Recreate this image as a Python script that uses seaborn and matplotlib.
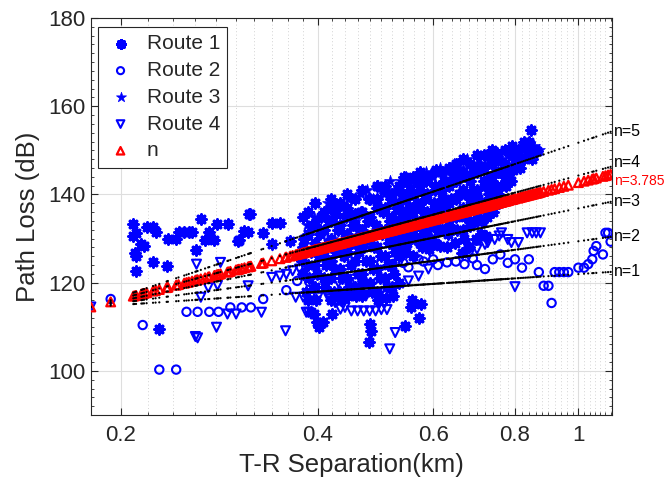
import numpy as np
import matplotlib
matplotlib.use("Agg")
import matplotlib.pyplot as plt
import seaborn as sns
from matplotlib.ticker import FixedLocator, MultipleLocator, NullFormatter

sns.set_style("ticks")
plt.rcParams['font.family'] = ['Liberation Sans', 'DejaVu Sans']

route1_d = [0.209, 0.209, 0.211, 0.219, 0.224, 0.226, 0.215, 0.217, 0.210, 0.211,
            0.211, 0.224, 0.235, 0.236, 0.243, 0.245, 0.250, 0.254, 0.257, 0.265,
            0.273, 0.269, 0.278, 0.281, 0.292, 0.261, 0.303, 0.314, 0.313, 0.229,
            0.315, 0.309, 0.302, 0.330, 0.340, 0.350, 0.340, 0.363, 0.420, 0.427,
            0.444, 0.399, 0.401, 0.390, 0.478, 0.481,
            0.378, 0.381, 0.384, 0.388, 0.390, 0.392, 0.394, 0.397, 0.399, 0.401,
            0.403, 0.405, 0.407, 0.410, 0.412, 0.414, 0.416, 0.418, 0.421, 0.423,
            0.425, 0.427, 0.429, 0.431, 0.434, 0.436, 0.438, 0.440, 0.442, 0.445,
            0.447, 0.449, 0.451, 0.453, 0.455, 0.458, 0.460, 0.462, 0.464, 0.466,
            0.469, 0.471, 0.473, 0.475, 0.477, 0.479, 0.482, 0.484, 0.486, 0.488,
            0.490, 0.492, 0.495, 0.497, 0.499, 0.501, 0.503, 0.505, 0.508, 0.510,
            0.512, 0.514, 0.516, 0.518, 0.521, 0.523, 0.525, 0.527, 0.529, 0.531,
            0.534, 0.536, 0.538, 0.540, 0.542, 0.544, 0.547, 0.549, 0.551, 0.553,
            0.555, 0.557, 0.562, 0.564, 0.566, 0.568, 0.570, 0.575, 0.577, 0.579,
            0.581, 0.583, 0.585, 0.592, 0.595, 0.598, 0.601, 0.604, 0.607, 0.611,
            0.614, 0.617, 0.620, 0.623, 0.630, 0.633, 0.636, 0.639, 0.642, 0.645,
            0.649, 0.652, 0.655, 0.658, 0.661, 0.665, 0.668, 0.671, 0.674, 0.677,
            0.681, 0.684, 0.687, 0.690, 0.693, 0.697, 0.700, 0.703, 0.706, 0.710,
            0.713, 0.716, 0.719, 0.723, 0.726, 0.729, 0.732, 0.735, 0.740, 0.744,
            0.748, 0.752, 0.757, 0.761, 0.765, 0.769, 0.775, 0.779, 0.783, 0.790,
            0.795, 0.800, 0.815, 0.830, 0.845, 0.850, 0.865,
            0.380, 0.380, 0.380,
            0.386, 0.386, 0.386, 0.386,
            0.396, 0.396, 0.396, 0.396, 0.396,
            0.408, 0.408, 0.408, 0.408,
            0.419, 0.419, 0.419, 0.419, 0.419, 0.419,
            0.432, 0.432, 0.432, 0.432, 0.432,
            0.443, 0.443, 0.443, 0.443, 0.443,
            0.456, 0.456, 0.456, 0.456, 0.456,
            0.467, 0.467, 0.467, 0.467, 0.467, 0.467,
            0.480, 0.480, 0.480, 0.480, 0.480,
            0.493, 0.493, 0.493, 0.493, 0.493, 0.493,
            0.506, 0.506, 0.506, 0.506, 0.506,
            0.519, 0.519, 0.519, 0.519, 0.519,
            0.532, 0.532, 0.532, 0.532, 0.532, 0.532,
            0.545, 0.545, 0.545, 0.545, 0.545,
            0.559, 0.559, 0.559, 0.559, 0.559,
            0.573, 0.573, 0.573, 0.573, 0.573,
            0.588, 0.588, 0.588, 0.588, 0.588,
            0.603, 0.603, 0.603, 0.603, 0.603,
            0.618, 0.618, 0.618, 0.618,
            0.634, 0.634, 0.634, 0.634,
            0.650, 0.650, 0.650, 0.650,
            0.667, 0.667, 0.667, 0.667, 0.667,
            0.683, 0.683, 0.683, 0.683,
            0.700, 0.700, 0.700, 0.700,
            0.718, 0.718, 0.718, 0.718,
            0.737, 0.737, 0.737, 0.737,
            0.755, 0.755, 0.755,
            0.773, 0.773, 0.773,
            0.792, 0.792, 0.792,
            0.808, 0.808,
            0.825, 0.825,
            0.840, 0.840]
route1_pl = [133.4, 130.6, 131.3, 132.7, 132.7, 131.5, 128.7, 128.3, 126.8, 126.1,
             122.7, 124.6, 123.8, 129.8, 129.8, 131.5, 131.5, 131.5, 131.5, 134.5,
             131.5, 129.7, 129.7, 133.3, 133.3, 127.4, 129.7, 135.5, 131.5, 109.5,
             135.6, 131.7, 129.5, 131.3, 133.6, 133.6, 128.7, 129.5, 137.5, 135.5,
             135.5, 111.0, 109.9, 113.3, 106.5, 110.6,
             125.0, 130.0, 118.0, 121.0, 127.0, 133.0, 113.0, 116.0, 122.0, 126.0,
             131.0, 135.0, 111.0, 119.0, 124.0, 129.0, 134.0, 137.0, 113.0, 118.0,
             123.0, 127.0, 132.0, 137.5, 116.0, 121.0, 126.0, 130.0, 135.0, 117.0,
             119.0, 124.0, 129.0, 133.0, 135.5, 117.0, 122.0, 127.0, 131.0, 136.0,
             117.5, 120.0, 125.0, 130.0, 134.0, 138.9, 109.0, 118.0, 123.0, 128.0,
             133.0, 137.0, 116.0, 121.0, 126.0, 131.0, 136.0, 141.0, 116.5, 119.0,
             124.0, 129.0, 134.0, 139.0, 117.0, 122.0, 127.0, 132.0, 137.0, 141.0,
             128.0, 132.0, 136.0, 140.0, 144.0, 110.2, 129.0, 133.0, 137.0, 141.0,
             114.4, 116.0, 130.0, 134.0, 138.0, 142.6, 112.0, 115.1, 128.0, 131.0,
             135.0, 139.0, 143.0, 127.6, 130.0, 134.0, 138.0, 142.0, 145.6, 131.7,
             128.3, 135.0, 139.0, 143.0, 128.0, 131.0, 135.0, 139.0, 143.0, 145.0,
             129.0, 132.0, 136.0, 140.0, 144.0, 126.8, 130.0, 135.0, 140.0, 144.0,
             128.0, 132.8, 137.0, 141.0, 145.3, 130.0, 134.0, 139.0, 146.4, 131.0,
             134.0, 137.0, 142.0, 130.6, 135.0, 140.0, 144.0, 148.0, 136.0, 141.0,
             145.0, 149.4, 138.0, 142.0, 144.9, 147.0, 141.9, 143.4, 146.0, 143.0,
             145.6, 148.0, 146.0, 150.6, 154.7, 148.0, 149.8,
             122.0, 128.0, 135.0,
             116.0, 124.0, 131.0, 136.0,
             119.0, 124.0, 129.0, 133.0, 138.0,
             121.0, 126.0, 132.0, 136.0,
             116.0, 121.0, 125.0, 130.0, 134.0, 139.0,
             118.0, 123.0, 128.0, 133.0, 138.0,
             121.0, 127.0, 131.0, 137.0, 140.0,
             119.0, 125.0, 129.0, 133.0, 139.0,
             117.0, 122.0, 128.0, 132.0, 136.0, 141.0,
             120.0, 125.0, 130.0, 135.0, 139.0,
             118.0, 123.0, 128.0, 132.0, 139.0, 142.0,
             121.0, 126.0, 132.0, 137.0, 142.0,
             119.0, 124.0, 130.0, 135.0, 140.0,
             120.0, 126.0, 130.0, 134.0, 138.0, 142.0,
             127.0, 131.0, 135.0, 139.0, 143.0,
             126.0, 132.0, 136.0, 140.0, 144.0,
             129.0, 133.0, 137.0, 141.0, 145.0,
             130.0, 132.0, 136.0, 140.0, 144.0,
             129.0, 133.0, 136.0, 141.0, 145.0,
             132.0, 137.0, 141.0, 145.0,
             133.0, 138.0, 142.0, 146.0,
             135.0, 139.0, 143.0, 147.0,
             132.0, 137.0, 141.0, 145.0, 148.0,
             134.0, 139.0, 143.0, 147.0,
             136.0, 141.0, 145.0, 149.0,
             138.0, 143.0, 146.0, 149.0,
             139.0, 143.0, 147.0, 150.0,
             140.0, 145.0, 148.0,
             144.0, 147.0, 150.0,
             146.0, 149.0, 151.0,
             147.0, 150.0,
             148.0, 152.0,
             150.0, 152.0]

route2_d = [0.193, 0.216, 0.229, 0.243, 0.252, 0.262, 0.273, 0.282, 0.294, 0.306,
            0.316, 0.330, 0.358, 0.372, 0.388, 0.500, 0.520, 0.530, 0.540, 0.550,
            0.570, 0.580, 0.600, 0.610, 0.630, 0.650, 0.670, 0.690, 0.700, 0.720,
            0.740, 0.760, 0.780, 0.800, 0.820, 0.840, 0.870, 0.885, 0.900, 0.910,
            0.920, 0.935, 0.950, 0.965, 1.000, 1.020, 1.035, 1.050, 1.055, 1.065,
            1.090, 1.100, 1.110, 1.120]
route2_pl = [116.3, 110.4, 100.3, 100.3, 113.4, 113.4, 113.4, 113.4, 114.4, 114.4,
             114.4, 116.3, 118.3, 120.4, 120.2, 124.5, 124.2, 124.8, 124.5, 123.5,
             125.3, 124.8, 125.3, 124.0, 124.6, 124.8, 124.2, 125.5, 124.0, 123.1,
             125.3, 126.4, 124.5, 125.3, 123.4, 125.3, 122.4, 119.3, 119.3, 115.4,
             122.4, 122.4, 122.4, 122.4, 123.4, 123.4, 124.2, 125.3, 127.2, 128.3,
             126.4, 131.3, 131.3, 129.3]

route3_d = [0.385, 0.395, 0.405, 0.415, 0.425, 0.435, 0.445, 0.455, 0.465, 0.475,
            0.485, 0.495, 0.505, 0.515, 0.525, 0.535, 0.545, 0.555, 0.565, 0.575,
            0.585, 0.600, 0.615, 0.630, 0.645, 0.660, 0.675, 0.690, 0.705, 0.720,
            0.735, 0.750, 0.765, 0.780, 0.795, 0.810, 0.825, 0.840, 0.855, 0.870,
            0.400, 0.420, 0.440, 0.460, 0.480]
route3_pl = [133.0, 135.0, 132.0, 138.0, 136.0, 137.0, 139.0, 134.0, 140.0, 141.0,
             139.0, 142.0, 140.0, 143.0, 141.0, 143.0, 144.0, 142.0, 144.0, 143.0,
             145.0, 144.0, 146.0, 145.0, 147.0, 146.0, 148.0, 146.0, 148.0, 147.0,
             148.0, 149.0, 148.0, 149.0, 150.0, 149.0, 151.0, 150.0, 151.0, 150.0,
             128.0, 130.0, 126.0, 132.0, 128.0]

route4_d = [0.180, 0.261, 0.265, 0.272, 0.281, 0.260, 0.262, 0.280, 0.291, 0.300,
            0.313, 0.284, 0.328, 0.340, 0.350, 0.358, 0.366, 0.375, 0.357, 0.370,
            0.380, 0.390, 0.400, 0.384, 0.415, 0.425, 0.430, 0.440, 0.450, 0.460,
            0.470, 0.480, 0.490, 0.458, 0.433, 0.468, 0.500, 0.510, 0.525, 0.515,
            0.387, 0.418, 0.550, 0.570, 0.590, 0.680, 0.700, 0.720, 0.745, 0.763,
            0.727, 0.757, 0.780, 0.810, 0.835, 0.850, 0.862, 0.875, 0.800, 0.790]
route4_pl = [114.5, 124.2, 116.7, 118.9, 119.4, 107.8, 107.5, 109.9, 112.9, 112.9,
             119.3, 124.6, 113.3, 121.2, 121.5, 121.9, 122.7, 123.1, 109.1, 116.7,
             116.7, 116.7, 116.7, 113.3, 116.7, 115.5, 120.0, 114.4, 113.6, 113.6,
             113.6, 113.6, 113.6, 120.0, 114.0, 119.3, 113.9, 113.9, 108.7, 105.0,
             113.3, 116.3, 120.4, 121.5, 123.1, 126.2, 127.6, 128.7, 129.8, 131.3,
             129.1, 130.6, 129.8, 129.1, 131.3, 131.3, 131.3, 131.3, 119.1, 129.1]

# log-distance model: PL(d) = PL0 + 10 n log10(d / d0)
d0 = 0.18
pl0 = 114.5
n_fit = 3.785
n_lines = [1, 2, 3, 4, 5]

all_d = np.array(sorted(set(route1_d + route2_d + route3_d + route4_d)))


def model(n):
    return pl0 + 10 * n * np.log10(all_d / d0)


fig = plt.figure(figsize=(6.68, 4.86), dpi=100)
ax = fig.add_axes([0.136, 0.146, 0.780, 0.817])

blue = '#0000ff'
sns.scatterplot(x=route1_d, y=route1_pl, marker=(8, 2, 0), s=44, color=blue,
                linewidth=2.3, ax=ax, label='Route 1', zorder=3)
sns.scatterplot(x=route2_d, y=route2_pl, marker='o', s=36, color=blue,
                facecolors='none', edgecolor=blue, linewidth=1.5, ax=ax,
                label='Route 2', zorder=3)
sns.scatterplot(x=route3_d, y=route3_pl, marker='*', s=80, color=blue,
                edgecolor=blue, linewidth=0.5, ax=ax, label='Route 3', zorder=3)
sns.scatterplot(x=route4_d, y=route4_pl, marker='v', s=42, color=blue,
                facecolors='none', edgecolor=blue, linewidth=1.5, ax=ax,
                label='Route 4', zorder=3)
sns.scatterplot(x=all_d, y=model(n_fit), marker='^', s=40, color='red',
                facecolors='none', edgecolor='red', linewidth=1.6, ax=ax,
                label='n', zorder=4)
for n in n_lines:
    sns.scatterplot(x=all_d, y=model(n), marker='.', s=10, color='black',
                    edgecolor='none', linewidth=0, ax=ax, legend=False, zorder=5)

# labels for the model lines, just outside the right edge
trans = ax.get_yaxis_transform()
offsets = {1: 0.0, 2: 0.0, 3: 0.0, 4: 1.0, 5: 0.0}
for n in n_lines:
    ax.text(1.004, model(n)[-1] + offsets[n], f'n={n}', transform=trans,
            fontsize=11.5, color='black', va='center', ha='left', clip_on=False)
ax.text(1.004, model(n_fit)[-1] - 1.6, f'n={n_fit}', transform=trans,
        fontsize=10, color='red', va='center', ha='left', clip_on=False)

ax.set_xscale('log')
ax.set_xlim(0.18, 1.125)
ax.set_ylim(90, 180)
ax.xaxis.set_major_locator(FixedLocator([0.2, 0.4, 0.6, 0.8, 1.0]))
ax.set_xticklabels(['0.2', '0.4', '0.6', '0.8', '1'])
ax.xaxis.set_minor_locator(MultipleLocator(0.02))
ax.xaxis.set_minor_formatter(NullFormatter())
ax.yaxis.set_major_locator(FixedLocator([100, 120, 140, 160, 180]))
ax.yaxis.set_minor_locator(MultipleLocator(2))

ax.set_axisbelow(True)
ax.grid(which='major', color='#dedede', linewidth=0.8, linestyle='-')
ax.xaxis.grid(which='minor', color='#c4c4c4', linewidth=0.6, linestyle=(0, (1, 3)))

ax.tick_params(which='both', direction='in', top=True, right=True,
               colors='#262626', labelsize=16)
ax.tick_params(which='major', length=5, width=0.8)
ax.tick_params(which='minor', length=2.5, width=0.6)
ax.tick_params(axis='x', which='major', pad=7)
for sp in ax.spines.values():
    sp.set_color('#262626')
    sp.set_linewidth(0.8)

ax.set_xlabel('T-R Separation(km)', fontsize=18.5, color='#262626', labelpad=5)
ax.set_ylabel('Path Loss (dB)', fontsize=18.5, color='#262626', labelpad=6)

handles, labels = ax.get_legend_handles_labels()
leg = ax.legend(handles[:5], labels[:5], loc='upper left',
                bbox_to_anchor=(0.013, 0.977), borderaxespad=0, fontsize=15,
                frameon=True, fancybox=False, edgecolor='#262626', framealpha=1,
                handletextpad=0.5, labelspacing=0.37, borderpad=0.35,
                handlelength=1.5, markerscale=0.85)
leg.get_frame().set_linewidth(0.8)

fig.savefig('out.png', dpi=100)
